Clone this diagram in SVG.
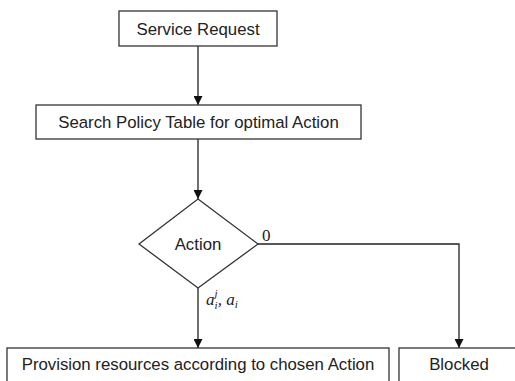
<svg xmlns="http://www.w3.org/2000/svg" width="515" height="381" viewBox="0 0 515 381">
<style>
.box{fill:#fff;stroke:#333;stroke-width:1.3}
.t{font-family:"Liberation Sans",Arial,sans-serif;font-size:16.8px;fill:#222;text-anchor:middle}
.m{font-family:"Liberation Serif","Times New Roman",serif;font-size:17px;fill:#222}
.c{fill:none;stroke:#222;stroke-width:1.3}
</style>
<defs>
<marker id="ah" viewBox="0 0 10 10" refX="10" refY="5" markerWidth="10" markerHeight="9" markerUnits="userSpaceOnUse" orient="auto">
<path d="M0,0 L10,5 L0,10 Z" fill="#111"/>
</marker>
</defs>
<rect width="515" height="381" fill="#fff"/>
<g id="connectors">
<line class="c" x1="198" y1="46" x2="198" y2="105" marker-end="url(#ah)"/>
<line class="c" x1="198" y1="139" x2="198" y2="199" marker-end="url(#ah)"/>
<line class="c" x1="198" y1="288" x2="198" y2="348" marker-end="url(#ah)"/>
<polyline class="c" points="258,244 459,244 459,348" marker-end="url(#ah)"/>
<text class="m" x="262" y="241">0</text>
<text class="m" x="206" y="305" font-style="italic">a<tspan font-size="11" dy="-8">j</tspan><tspan font-size="11" dx="-3" dy="12">i</tspan><tspan dy="-4">, a</tspan><tspan font-size="11" dy="3">i</tspan></text>
</g>
<g id="service-request">
<rect class="box" x="119" y="11" width="158" height="35"/>
<text class="t" x="198" y="34.5">Service Request</text>
</g>
<g id="search-policy">
<rect class="box" x="36" y="105" width="325" height="34"/>
<text class="t" x="198.5" y="128">Search Policy Table for optimal Action</text>
</g>
<g id="action">
<polygon class="box" points="198,199 258,244 198,288 139,244"/>
<text class="t" x="198" y="250">Action</text>
</g>
<g id="provision">
<rect class="box" x="7" y="348" width="382" height="36"/>
<text class="t" x="198" y="370">Provision resources according to chosen Action</text>
</g>
<g id="blocked">
<rect class="box" x="399" y="348" width="120" height="36"/>
<text class="t" x="459" y="370">Blocked</text>
</g>
</svg>
